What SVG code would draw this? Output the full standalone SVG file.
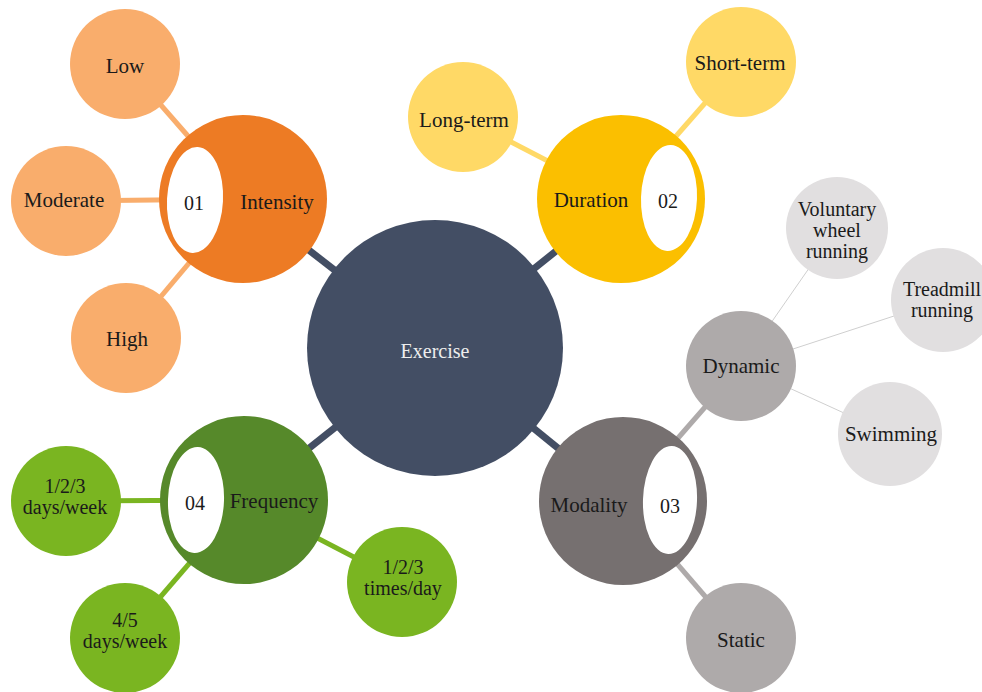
<svg xmlns="http://www.w3.org/2000/svg" width="982" height="692" viewBox="0 0 982 692">
<style>
text{font-family:"Liberation Serif","Times New Roman",serif;font-size:21px;fill:#1a1a1a;text-anchor:middle}
text.m{font-size:20px}
.hole{fill:#fff}
.ex{stroke:#434E64;stroke-width:7}
.lo{stroke:#F9AD6C;stroke-width:5}
.ly{stroke:#FFD966;stroke-width:5}
.lg{stroke:#7AB521;stroke-width:5}
.lm{stroke:#AEAAAA;stroke-width:5}
.lt{stroke:#CFCFCF;stroke-width:1}
</style>
<rect width="982" height="692" fill="#fff"/>
<g id="connectors">
<line class="ex" x1="435" y1="348" x2="243" y2="199"/>
<line class="ex" x1="435" y1="348" x2="621" y2="199"/>
<line class="ex" x1="435" y1="348" x2="623" y2="501"/>
<line class="ex" x1="435" y1="348" x2="244" y2="500"/>
<line class="lo" x1="243" y1="199" x2="125" y2="64"/>
<line class="lo" x1="243" y1="199" x2="66" y2="201"/>
<line class="lo" x1="243" y1="199" x2="126" y2="338"/>
<line class="ly" x1="621" y1="199" x2="463" y2="117"/>
<line class="ly" x1="621" y1="199" x2="741" y2="62"/>
<line class="lg" x1="244" y1="500" x2="66" y2="501"/>
<line class="lg" x1="244" y1="500" x2="125" y2="638"/>
<line class="lg" x1="244" y1="500" x2="402" y2="582"/>
<line class="lm" x1="623" y1="501" x2="741" y2="366"/>
<line class="lm" x1="623" y1="501" x2="741" y2="638"/>
<line class="lt" x1="741" y1="366" x2="837" y2="228"/>
<line class="lt" x1="741" y1="366" x2="943" y2="300"/>
<line class="lt" x1="741" y1="366" x2="890" y2="434"/>
</g>
<g id="exercise">
<circle cx="435" cy="348" r="128" fill="#434E64"/>
<text x="435" y="358" style="font-size:20px;fill:#EEEEEE">Exercise</text>
</g>
<g id="intensity">
<circle cx="243" cy="199" r="84" fill="#ED7B24"/>
<ellipse class="hole" cx="195" cy="200" rx="28" ry="53" transform="rotate(3 195 200)"/>
<text x="194" y="210" style="font-size:20px">01</text>
<text x="277" y="209">Intensity</text>
</g>
<g id="duration">
<circle cx="621" cy="199" r="84" fill="#FBBF00"/>
<ellipse class="hole" cx="669" cy="198" rx="28" ry="53" transform="rotate(2 669 198)"/>
<text x="668" y="208" style="font-size:20px">02</text>
<text x="591" y="207">Duration</text>
</g>
<g id="modality">
<circle cx="623" cy="501" r="84" fill="#767070"/>
<ellipse class="hole" cx="670" cy="500" rx="27" ry="54" transform="rotate(2 670 500)"/>
<text x="670" y="513" style="font-size:20px">03</text>
<text x="589" y="512">Modality</text>
</g>
<g id="frequency">
<circle cx="244" cy="500" r="84" fill="#56892A"/>
<ellipse class="hole" cx="196" cy="500" rx="28" ry="53" transform="rotate(2 196 500)"/>
<text x="195" y="510" style="font-size:20px">04</text>
<text x="274" y="508">Frequency</text>
</g>
<g id="low"><circle cx="125" cy="64" r="55" fill="#F9AD6C"/><text x="125" y="73">Low</text></g>
<g id="moderate"><circle cx="66" cy="201" r="55" fill="#F9AD6C"/><text x="64" y="207">Moderate</text></g>
<g id="high"><circle cx="126" cy="338" r="55" fill="#F9AD6C"/><text x="127" y="346">High</text></g>
<g id="long-term"><circle cx="463" cy="117" r="55" fill="#FFD966"/><text x="464" y="127">Long-term</text></g>
<g id="short-term"><circle cx="741" cy="62" r="55" fill="#FFD966"/><text x="740" y="70">Short-term</text></g>
<g id="days-week-123"><circle cx="66" cy="501" r="55" fill="#7AB521"/><text class="m" x="65" y="493">1/2/3</text><text class="m" x="65" y="514">days/week</text></g>
<g id="days-week-45"><circle cx="125" cy="638" r="55" fill="#7AB521"/><text class="m" x="125" y="627">4/5</text><text class="m" x="125" y="648">days/week</text></g>
<g id="times-day"><circle cx="402" cy="582" r="55" fill="#7AB521"/><text class="m" x="403" y="574">1/2/3</text><text class="m" x="403" y="595">times/day</text></g>
<g id="dynamic"><circle cx="741" cy="366" r="55" fill="#AEAAAA"/><text x="741" y="373">Dynamic</text></g>
<g id="static"><circle cx="741" cy="638" r="55" fill="#AEAAAA"/><text x="741" y="647">Static</text></g>
<g id="voluntary"><circle cx="837" cy="228" r="51" fill="#E1DFE0"/><text class="m" x="837" y="216">Voluntary</text><text class="m" x="837" y="237">wheel</text><text class="m" x="837" y="258">running</text></g>
<g id="treadmill"><circle cx="943" cy="300" r="52" fill="#E1DFE0"/><text class="m" x="942" y="296">Treadmill</text><text class="m" x="942" y="317">running</text></g>
<g id="swimming"><circle cx="890" cy="434" r="52" fill="#E1DFE0"/><text x="891" y="441">Swimming</text></g>
</svg>
